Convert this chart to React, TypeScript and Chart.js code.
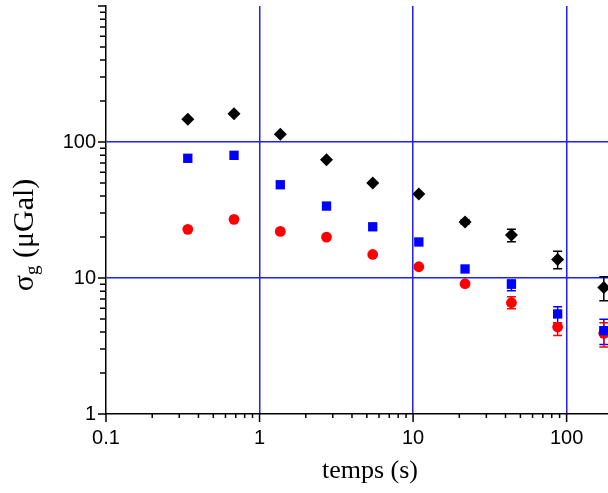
import React, { useEffect, useRef } from "react";
import { Chart, registerables } from "chart.js";

Chart.register(...registerables);

// ---- data ----
const times = [0.341, 0.682, 1.365, 2.73, 5.46, 10.9, 21.8, 43.7, 87.4, 174.7];

const sigmaBlack = [147, 161, 114, 74, 50, 41.5, 25.8, 20.7, 13.7, 8.5];
const errLowBlack = [null, null, null, null, null, null, 24.9, 18.5, 11.7, 6.8];
const errHighBlack = [null, null, null, null, null, null, 26.8, 22.8, 15.7, 10.2];

const sigmaBlue = [75.9, 79.8, 48.5, 33.8, 23.8, 18.4, 11.65, 9.0, 5.44, 4.1];
const errLowBlue = [null, null, null, null, null, null, null, 8.07, 4.69, 3.25];
const errHighBlue = [null, null, null, null, null, null, null, 9.67, 6.15, 4.97];

const sigmaRed = [22.8, 27.0, 22.0, 20.0, 14.9, 12.1, 9.08, 6.58, 4.36, 3.92];
const errLowRed = [null, null, null, null, null, null, null, 5.95, 3.77, 3.11];
const errHighRed = [null, null, null, null, null, null, null, 7.29, 4.69, 4.69];

const xTickLabels = ["0.1", "1", "10", "100"];
const yTickLabels = ["1", "10", "100"];
const xGridValues = [1, 10, 100];
const yGridValues = [10, 100];
const xMin = 0.1;
const xMax = 186;
const yMin = 1;
const yMax = 1000;

const xTitle = "temps (s)";
const yTitleMain = "σ";
const yTitleSub = "g";
const yTitleRest = " (μGal)";

// ---- helpers ----
const GRID_BLUE = "rgb(30,30,255)";

function logTicks(min: number, max: number) {
  const out: number[] = [];
  const e0 = Math.floor(Math.log10(min));
  const e1 = Math.ceil(Math.log10(max));
  for (let e = e0; e <= e1; e++) {
    for (let s = 1; s <= 9; s++) {
      const v = parseFloat((s * Math.pow(10, e)).toPrecision(6));
      if (v >= min * 0.9999 && v <= max * 1.0001) out.push(v);
    }
  }
  return out;
}
const isMajor = (v: number) => Math.abs(Math.log10(v) - Math.round(Math.log10(v))) < 1e-6;
const near = (a: number, b: number) => Math.abs(a - b) < 1e-9 * Math.max(1, Math.abs(b));
const labelFor = (labels: string[], v: number) => {
  const l = labels.find((s) => near(parseFloat(s), v));
  return l === undefined ? "" : l;
};

const pts = (ys: number[]) => times.map((x, i) => ({ x, y: ys[i] }));

const errorBarPlugin = {
  id: "errorBars",
  beforeDatasetsDraw(chart: any) {
    const ctx = chart.ctx;
    const ys = chart.scales.y;
    chart.data.datasets.forEach((ds: any, di: number) => {
      const meta = chart.getDatasetMeta(di);
      ctx.save();
      ctx.strokeStyle = ds.backgroundColor;
      ctx.lineWidth = 1.5;
      meta.data.forEach((el: any, i: number) => {
        const lo = ds.errLow[i];
        const hi = ds.errHigh[i];
        if (lo == null || hi == null) return;
        const x = el.x;
        const yl = ys.getPixelForValue(lo);
        const yh = ys.getPixelForValue(hi);
        ctx.beginPath();
        ctx.moveTo(x, yl);
        ctx.lineTo(x, yh);
        ctx.moveTo(x - 4.5, yl);
        ctx.lineTo(x + 4.5, yl);
        ctx.moveTo(x - 4.5, yh);
        ctx.lineTo(x + 4.5, yh);
        ctx.stroke();
      });
      ctx.restore();
    });
  },
};

const axisDecorPlugin = {
  id: "axisDecor",
  afterDraw(chart: any) {
    const ctx = chart.ctx;
    const { left, bottom } = chart.chartArea;
    const xs = chart.scales.x;
    const ys = chart.scales.y;
    ctx.save();
    ctx.strokeStyle = "#000";
    ctx.lineWidth = 1.5;
    ctx.beginPath();
    xs.ticks.forEach((t: any) => {
      const px = xs.getPixelForValue(t.value);
      const len = isMajor(t.value) ? 8 : 4;
      ctx.moveTo(px, bottom);
      ctx.lineTo(px, bottom + len);
    });
    ys.ticks.forEach((t: any) => {
      const py = ys.getPixelForValue(t.value);
      const len = isMajor(t.value) ? 8 : 6;
      ctx.moveTo(left, py);
      ctx.lineTo(left - len, py);
    });
    ctx.stroke();

    // x title
    ctx.fillStyle = "#000";
    ctx.font = "26px 'Liberation Serif', 'Times New Roman', serif";
    ctx.textAlign = "center";
    ctx.textBaseline = "alphabetic";
    ctx.fillText(xTitle, 370, 478);

    // y title (rotated, with subscript)
    const mainFont = "30px 'Liberation Serif', 'Times New Roman', serif";
    const subFont = "19px 'Liberation Serif', 'Times New Roman', serif";
    ctx.font = mainFont;
    const w1 = ctx.measureText(yTitleMain).width;
    const w3 = ctx.measureText(yTitleRest).width;
    ctx.font = subFont;
    const w2 = ctx.measureText(yTitleSub).width;
    const total = w1 + w2 + w3;
    ctx.translate(33, 235);
    ctx.rotate(-Math.PI / 2);
    ctx.textAlign = "left";
    let cx = -total / 2;
    ctx.font = mainFont;
    ctx.fillText(yTitleMain, cx, 0);
    cx += w1;
    ctx.font = subFont;
    ctx.fillText(yTitleSub, cx, 5);
    cx += w2;
    ctx.font = mainFont;
    ctx.fillText(yTitleRest, cx, 0);
    ctx.restore();
  },
};

export default function App() {
  const ref = useRef<HTMLCanvasElement>(null);
  useEffect(() => {
    document.body.style.margin = "0";
    const tickFont = { family: "'Liberation Sans', Arial, sans-serif", size: 20 };
    const chart = new Chart(ref.current as HTMLCanvasElement, {
      type: "scatter",
      data: {
        datasets: [
          {
            label: "black",
            data: pts(sigmaBlack),
            pointStyle: "rectRot",
            pointRadius: 6.5,
            backgroundColor: "#000000",
            borderColor: "#000000",
            borderWidth: 0,
            errLow: errLowBlack,
            errHigh: errHighBlack,
          } as any,
          {
            label: "blue",
            data: pts(sigmaBlue),
            pointStyle: "rect",
            pointRadius: 6.6,
            backgroundColor: "#0000ff",
            borderColor: "#0000ff",
            borderWidth: 0,
            errLow: errLowBlue,
            errHigh: errHighBlue,
          } as any,
          {
            label: "red",
            data: pts(sigmaRed),
            pointStyle: "circle",
            pointRadius: 5.4,
            backgroundColor: "#ff0000",
            borderColor: "#ff0000",
            borderWidth: 0,
            errLow: errLowRed,
            errHigh: errHighRed,
          } as any,
        ],
      },
      options: {
        animation: false,
        responsive: false,
        devicePixelRatio: 1,
        layout: { autoPadding: false, padding: { top: 6, left: 0, right: 0, bottom: 0 } },
        plugins: { legend: { display: false }, tooltip: { enabled: false } },
        scales: {
          x: {
            type: "logarithmic",
            position: "bottom",
            min: xMin,
            max: xMax,
            afterBuildTicks: (s: any) => {
              s.ticks = logTicks(xMin, xMax).map((v) => ({ value: v, major: isMajor(v) }));
            },
            afterFit: (s: any) => {
              s.height = 79;
              s.paddingLeft = 0;
              s.paddingRight = 0;
              s.paddingTop = 0;
              s.paddingBottom = 0;
            },
            grid: {
              color: (c: any) =>
                c.tick && xGridValues.some((g) => near(g, c.tick.value)) ? GRID_BLUE : "rgba(0,0,0,0)",
              lineWidth: 1.5,
              drawTicks: true,
              tickLength: 8,
              tickColor: "rgba(0,0,0,0)",
            },
            border: { display: true, color: "#000", width: 1.5 },
            ticks: {
              autoSkip: false,
              maxRotation: 0,
              minRotation: 0,
              padding: 4,
              color: "#000",
              font: tickFont,
              callback: (v: any) => labelFor(xTickLabels, Number(v)),
            },
          },
          y: {
            type: "logarithmic",
            position: "left",
            min: yMin,
            max: yMax,
            afterBuildTicks: (s: any) => {
              s.ticks = logTicks(yMin, yMax).map((v) => ({ value: v, major: isMajor(v) }));
            },
            afterFit: (s: any) => {
              s.width = 106;
              s.paddingLeft = 0;
              s.paddingRight = 0;
              s.paddingTop = 0;
              s.paddingBottom = 0;
            },
            grid: {
              color: (c: any) =>
                c.tick && yGridValues.some((g) => near(g, c.tick.value)) ? GRID_BLUE : "rgba(0,0,0,0)",
              lineWidth: 1.5,
              drawTicks: true,
              tickLength: 8,
              tickColor: "rgba(0,0,0,0)",
            },
            border: { display: true, color: "#000", width: 1.5 },
            ticks: {
              autoSkip: false,
              padding: 2,
              color: "#000",
              font: tickFont,
              callback: (v: any) => labelFor(yTickLabels, Number(v)),
            },
          },
        },
      },
      plugins: [errorBarPlugin, axisDecorPlugin],
    } as any);
    return () => chart.destroy();
  }, []);
  return (
    <div style={{ width: 608, height: 493 }}>
      <canvas ref={ref} width={608} height={493} style={{ display: "block" }} />
    </div>
  );
}
